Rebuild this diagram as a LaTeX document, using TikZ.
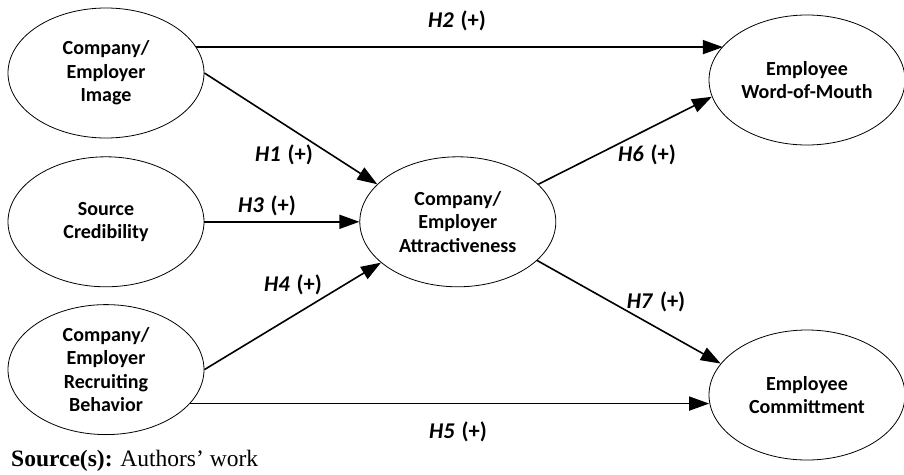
\documentclass[tikz,border=0pt]{standalone}
\usepackage{fontspec}
\setmainfont{Carlito}
\newfontfamily\srcfont{Liberation Serif}
\usetikzlibrary{arrows.meta,positioning,shapes.geometric}

\tikzset{
  construct/.style={ellipse, draw, line width=0.8pt, minimum width=196pt,
    minimum height=130pt, inner sep=0pt, align=center,
    font=\fontsize{20}{23.5}\selectfont\bfseries},
  hyp/.style={inner sep=0pt, font=\fontsize{22.5}{25}\selectfont\bfseries},
  link/.style={-{Triangle[length=20pt,width=14pt]}, line width=1.6pt}
}

\begin{document}
\begin{tikzpicture}[x=1pt, y=-1pt]
  \useasboundingbox (0,0) rectangle (904,474);

  \node[construct] (img)  at (106,73)            {Company/\\Employer\\Image};
  \node[construct] (src)  [below=18pt of img]    {Source\\Credibility};
  \node[construct] (rec)  [below=17pt of src]    {Company/\\Employer\\Recruiting\\Behavior};
  \node[construct] (attr) [right=155pt of src]   {Company/\\Employer\\Attractiveness};
  \node[construct] (wom)  at (807,80)            {Employee\\Word-of-Mouth};
  \node[construct] (com)  at (807,395)           {Employee\\Committment};

  \path[link] (img.16)   edge (img.16 -| wom.158)
              (img.east) edge (attr.155)
              (src.east) edge (attr.west)
              (rec.east) edge (attr.208)
              (rec.338)  edge (rec.338 -| com.184)
              (attr.25)  edge (wom.190)
              (attr.334) edge (com.160);

  % hypothesis labels
  \node[hyp] (h2) at (457,21)  {\textit{H2}\hspace{0.3em}(+)};
  \node[hyp] (h1) at (284,155) {\textit{H1}\hspace{0.3em}(+)};
  \node[hyp] (h3) at (267,206) {\textit{H3}\hspace{0.3em}(+)};
  \node[hyp] (h4) at (293,285) {\textit{H4}\hspace{0.3em}(+)};
  \node[hyp] (h5) at (458,432) {\textit{H5}\hspace{0.3em}(+)};
  \node[hyp] (h6) at (647,155) {\textit{H6}\hspace{0.3em}(+)};
  \node[hyp] (h7) at (656,302) {\textit{H7}\hspace{0.3em}(+)};

  \node[anchor=west, inner sep=0pt, font=\srcfont\fontsize{23.5}{26}\selectfont] (note)
    at (11,461) {\textbf{Source(s):} Authors’ work};
\end{tikzpicture}
\end{document}
